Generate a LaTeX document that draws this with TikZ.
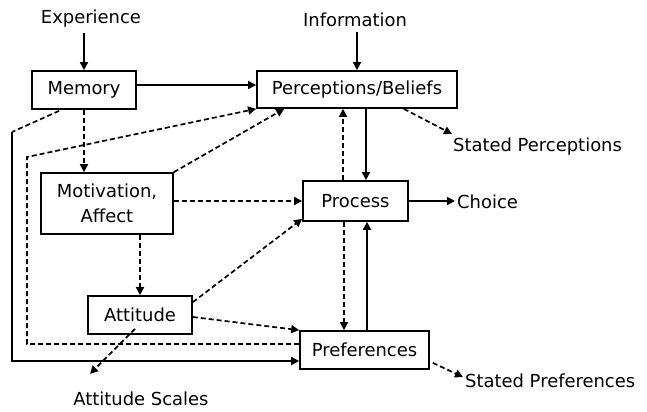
\documentclass[tikz,border=0pt]{standalone}
\usepackage{fontspec}
\setmainfont{DejaVu Sans}
\usetikzlibrary{arrows.meta,calc}
\begin{document}
\begin{tikzpicture}[x=1bp,y=-1bp,
  every node/.style={font=\fontsize{18}{25}\selectfont, inner sep=0pt},
  box/.style={draw, line width=1.7bp, minimum width=#1},
  lbl/.style={},
  conn/.style={line width=1.7bp, -{Triangle[length=8bp,width=8bp]}},
  plain/.style={line width=1.7bp},
  dsh/.style={dash pattern=on 5bp off 3bp}]
\useasboundingbox (0,0) rectangle (647,411);
% boxes
\node[box=104bp, minimum height=38bp] (mem) at (84,90) {Memory};
\node[box=200bp, minimum height=37bp] (perc) at (357,89.5) {Perceptions/Beliefs};
\node[box=132bp, minimum height=61bp, align=center] (mot) at (107,203.5) {Motivation,\\Affect};
\node[box=105bp, minimum height=40bp] (proc) at (355.5,201) {Process};
\node[box=104bp, minimum height=38bp] (att) at (140,315) {Attitude};
\node[box=129bp, minimum height=38bp] (pref) at (364.5,350) {Preferences};
% labels
\node[lbl] (exp) at (91,19) {Experience};
\node[lbl] (info) at (355,20) {Information};
\node[lbl, anchor=west] (sperc) at (453,147) {Stated Perceptions};
\node[lbl, anchor=west] (choice) at (457,202) {Choice};
\node[lbl] (atts) at (141,399) {Attitude Scales};
\node[lbl, anchor=west] (spref) at (465,381) {Stated Preferences};
\coordinate (c1) at (12,132);
\coordinate (c2) at (12,361);
\coordinate (d1) at (27,157);
\coordinate (d2) at (27,344);
% solid connectors
\draw[conn] ($(mem.north |- exp.south)+(0,5)$) -- (mem.north);
\draw[conn] ($(perc.north |- info.south)+(0,5)$) -- (perc.north);
\draw[conn] ($(mem.east)+(0,-5)$) -- ($(mem.east -| perc.west)+(0,-5)$);
\draw[conn] ($(perc.south)+(9,0)$) -- ($(proc.north)+(10.5,0)$);
\draw[conn] ($(pref.north)+(2.5,0)$) -- ($(proc.south)+(11.5,0)$);
\draw[conn] (proc.east) -- ($(proc.east -| choice.west)+(-2,0)$);
% memory feedback loop
\draw[plain, dsh] ($(mem.south west)+(28,1)$) -- (c1);
\draw[conn] (c1) -- (c2) -- (pref.west |- c2);
% dashed connectors
\draw[conn, dsh] (mem.south) -- (mem.south |- mot.north);
\draw[conn, dsh] (mot.east |- proc.west) -- (proc.west);
\draw[conn, dsh] (att.north |- mot.south) -- (att.north);
\draw[conn, dsh] (mot.north east) -- ($(perc.south west)+(28,0)$);
\draw[conn, dsh] ($(att.north east)+(0,7)$) -- ($(proc.south west)+(0,-3)$);
\draw[conn, dsh] ($(att.east)+(0,2)$) -- (pref.north west);
\draw[conn, dsh] ($(att.south)+(-5,-6)$) -- ($(atts.north)+(-51,-18)$);
\draw[conn, dsh] ($(proc.north)+(-12.5,0)$) -- ($(perc.south)+(-14,0)$);
\draw[conn, dsh] ($(proc.south)+(-11.5,0)$) -- ($(pref.north)+(-20.5,0)$);
\draw[conn, dsh] ($(perc.south east)+(-54,0)$) -- ($(sperc.west)+(-1,-13)$);
\draw[conn, dsh] ($(pref.south east)+(3,-7)$) -- ($(spref.west)+(-2,-4)$);
\draw[conn, dsh] (pref.west |- d2) -- (d2) -- (d1) -- (perc.south west);
\end{tikzpicture}
\end{document}
